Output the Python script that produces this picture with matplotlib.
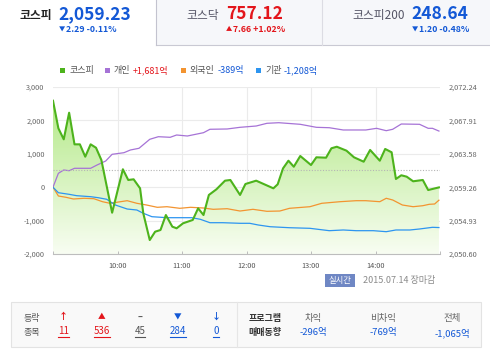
import numpy as np
import matplotlib
matplotlib.use('Agg')
import matplotlib.pyplot as plt
from matplotlib.patches import Rectangle, Polygon
from matplotlib.colors import LinearSegmentedColormap

plt.rcParams['font.family'] = ['Noto Sans CJK KR', 'DejaVu Sans']

# ---- data (minutes after 09:00) ----
t_kospi = [0, 5, 10, 15, 20, 25, 30, 35, 40, 45, 55, 65, 70, 75, 81, 84, 90, 95, 100, 105,
           111, 115, 121, 130, 135, 140, 145, 152, 160, 165, 174, 179, 189, 205, 209, 214, 219, 224, 230, 240,
           245, 254, 259, 264, 273, 280, 289, 295, 304, 309, 315, 319, 324, 329, 335, 344, 349, 359]
kospi = [2070.46, 2066.89, 2065.46, 2068.91, 2064.81, 2064.81, 2063.21, 2064.81, 2064.37, 2062.78,
         2055.95, 2061.58, 2060.19, 2060.28, 2059.11, 2055.87, 2052.41, 2053.49, 2053.71, 2055.65,
         2054.14, 2053.93, 2054.58, 2055.01, 2056.52, 2055.65, 2058.25, 2058.98, 2060.10, 2060.19,
         2058.25, 2059.67, 2060.10, 2059.11, 2059.63, 2061.70, 2062.69, 2061.91, 2063.30, 2062.13,
         2063.13, 2063.08, 2064.30, 2064.50, 2063.99, 2063.13, 2062.56, 2064.08, 2062.69, 2064.21,
         2063.78, 2060.32, 2060.80, 2060.62, 2060.02, 2060.19, 2058.89, 2059.23]
prev_close = 2061.52

t_ind = [0, 5, 10, 15, 20, 35, 41, 49, 55, 66, 72, 80, 90, 98, 109, 115, 125, 140, 146, 162,
         174, 189, 199, 210, 230, 245, 257, 270, 291, 301, 310, 316, 324, 341, 349, 353, 359]
individual = [0, 416, 515, 494, 566, 566, 665, 784, 985, 1033, 1114, 1165, 1434, 1512, 1494, 1563, 1533, 1632, 1734, 1743,
              1793, 1832, 1913, 1931, 1883, 1793, 1781, 1713, 1713, 1763, 1692, 1734, 1892, 1883, 1763, 1763, 1681]

t_for = [0, 5, 12, 19, 29, 38, 46, 53, 69, 78, 87, 97, 106, 118, 128, 140, 149, 162, 174, 186,
         199, 211, 220, 239, 250, 267, 282, 291, 304, 310, 316, 325, 335, 344, 350, 355, 359]
foreign = [0, -263, -302, -353, -332, -344, -434, -482, -404, -482, -533, -602, -584, -632, -602, -623, -662, -644, -713, -662,
           -722, -713, -632, -584, -482, -434, -404, -404, -434, -332, -383, -533, -584, -554, -512, -503, -389]

t_inst = [0, 5, 15, 22, 35, 42, 50, 58, 69, 78, 84, 92, 106, 118, 129, 137, 146, 158, 174, 183,
          191, 202, 220, 239, 257, 270, 282, 298, 310, 319, 332, 341, 353, 359]
institution = [0, -165, -213, -254, -284, -314, -362, -533, -653, -683, -781, -883, -913, -913, -913, -961, -1063, -1063, -1081, -1081,
               -1132, -1183, -1213, -1231, -1302, -1281, -1302, -1302, -1332, -1281, -1281, -1251, -1201, -1208]

left_ticks = [3000, 2000, 1000, 0, -1000, -2000]
right_ticks = [2072.24, 2067.91, 2063.58, 2059.26, 2054.93, 2050.60]
hour_ticks = [0, 60, 120, 180, 240, 300, 360]
hour_labels = ['', '10:00', '11:00', '12:00', '13:00', '14:00', '']

legend_names = ['코스피', '개인', '외국인', '기관']
legend_values = ['', '+1,681억', '-389억', '-1,208억']

# header tabs
tab_names = ['코스피', '코스닥', '코스피200']
tab_values = ['2,059.23', '757.12', '248.64']
tab_arrows = ['▼', '▲', '▼']
tab_changes = ['2.29 -0.11%', '7.66 +1.02%', '1.20 -0.48%']

# colours
GREEN = '#4db31c'
PURPLE = '#a673d6'
ORANGE = '#f39430'
BLUE = '#2d95f0'
TXT_BLUE = '#1358d6'
TXT_RED = '#e3151b'
GREY = '#555555'

fig = plt.figure(figsize=(4.9, 3.57), dpi=100)

# ---- overlay in pixel coordinates ----
ov = fig.add_axes([0, 0, 1, 1], zorder=0)
ov.set_xlim(0, 490)
ov.set_ylim(357, 0)
ov.axis('off')

ov.add_patch(Rectangle((156, 0), 334, 44.5, facecolor='#f6f7fa', edgecolor='none'))
ov.plot([156, 490], [44.5, 44.5], color='#c9c9d3', lw=0.8)
ov.plot([156, 156], [0, 44.5], color='#c3c3cf', lw=0.8)
ov.plot([322, 322], [0, 44.5], color='#dcdce3', lw=0.8)

name_x = [52, 219, 405]
val_x = [58, 226, 411]
chg_x = [60, 227, 413]
tab_cols = [TXT_BLUE, TXT_RED, TXT_BLUE]
name_cols = ['#222222', '#555566', '#555566']
for i in range(3):
    ov.text(name_x[i], 15, tab_names[i], ha='right', va='center', fontsize=8.5,
            fontweight='bold' if i == 0 else 'normal', color=name_cols[i])
    ov.text(val_x[i], 14, tab_values[i], ha='left', va='center', fontsize=12.5,
            fontweight='bold', color=tab_cols[i])
    ov.text(chg_x[i] + 2, 29.5, tab_arrows[i], ha='center', va='center', fontsize=4.5,
            color=tab_cols[i])
    ov.text(chg_x[i] + 6, 30, tab_changes[i], ha='left', va='center', fontsize=6.3,
            fontweight='bold', color=tab_cols[i])

# legend
leg_colors = [GREEN, PURPLE, ORANGE, BLUE]
leg_x = [60, 105, 181, 256]
leg_val_colors = [GREY, TXT_RED, TXT_BLUE, TXT_BLUE]
fig.canvas.draw()
renderer = fig.canvas.get_renderer()
inv = ov.transData.inverted()
for name, val, c, vc, x in zip(legend_names, legend_values, leg_colors, leg_val_colors, leg_x):
    ov.add_patch(Rectangle((x, 67.5), 5, 5, facecolor=c, edgecolor='none'))
    t = ov.text(x + 9, 70, name, ha='left', va='center', fontsize=6.5, color=GREY)
    if val:
        bb = t.get_window_extent(renderer)
        x1 = inv.transform((bb.x1, bb.y0))[0]
        ov.text(x1 + 2.5, 70, val, ha='left', va='center', fontsize=6.5, color=vc)

# badge and date
ov.add_patch(Rectangle((325, 274), 30, 12.5, facecolor='#6f87c4', edgecolor='none'))
ov.text(340, 280.5, '실시간', ha='center', va='center', fontsize=6, color='white')
ov.text(363, 280.5, '2015.07.14 장마감', ha='left', va='center', fontsize=6.5, color='#8a8a8a')

# bottom box
ov.add_patch(Rectangle((10.5, 302), 470, 45, facecolor='#f9f9f9', edgecolor='#e3e3e3', lw=0.8))
ov.plot([236.5, 236.5], [302, 347], color='#e6e6e6', lw=0.8)
ov.text(32, 318, '등락', ha='center', va='center', fontsize=6.5, color=GREY)
ov.text(32, 332, '종목', ha='center', va='center', fontsize=6.5, color=GREY)

updown_syms = ['↑', '▲', '–', '▼', '↓']
updown_nums = ['11', '536', '45', '284', '0']
updown_cols = [TXT_RED, TXT_RED, '#555555', TXT_BLUE, TXT_BLUE]
updown_x = [63.5, 102, 140, 178, 216]
for s, n, c, x in zip(updown_syms, updown_nums, updown_cols, updown_x):
    ov.text(x, 317, s, ha='center', va='center', fontsize=5.5 if s in '▲▼' else 6.5,
            fontweight='bold', color=c)
    t = ov.text(x, 331.5, n, ha='center', va='center', fontsize=7, color=c)
    bb = t.get_window_extent(renderer)
    xa = inv.transform((bb.x0, 0))[0]
    xb = inv.transform((bb.x1, 0))[0]
    ov.plot([xa, xb], [336.8, 336.8], color=c, lw=0.8)

ov.text(265, 318, '프로그램', ha='center', va='center', fontsize=6.5, fontweight='bold', color='#333333')
ov.text(265, 332, '매매동향', ha='center', va='center', fontsize=6.5, fontweight='bold', color='#333333')
prog_names = ['차익', '비차익', '전체']
prog_vals = ['-296억', '-769억', '-1,065억']
prog_x = [313, 383, 452]
for nm, v, x in zip(prog_names, prog_vals, prog_x):
    ov.text(x, 318, nm, ha='center', va='center', fontsize=6.8, color='#666666')
    ov.text(x, 333, v, ha='center', va='center', fontsize=6.8, color=TXT_BLUE)

# ---- chart ----
ax = fig.add_axes([53 / 490, 1 - 254 / 357, 387 / 490, 167 / 357], zorder=2)
ax2 = ax.twinx()
ax2.set_zorder(3)
ax2.patch.set_visible(False)
ax.patch.set_visible(False)

ax.set_xlim(0, 360)
ax.set_ylim(-2000, 3000)
ax2.set_ylim(right_ticks[-1], right_ticks[0])

# gradient fill under kospi line (drawn in ax, using ax2's scale)
verts = list(zip(t_kospi, kospi)) + [(t_kospi[-1], right_ticks[-1]), (t_kospi[0], right_ticks[-1])]
clip = Polygon(verts, closed=True, transform=ax2.transData, facecolor='none', edgecolor='none')
ax.add_patch(clip)
cmap = LinearSegmentedColormap.from_list('fill', ['#f8fdf2', '#aee77f'])
grad = np.linspace(1, 0, 256).reshape(-1, 1)
img = ax.imshow(grad, extent=[0, 360, -2000, 3000], aspect='auto', cmap=cmap, origin='upper', zorder=0.5)
img.set_clip_path(clip)
ax.set_xlim(0, 360)
ax.set_ylim(-2000, 3000)

# grid
for y in left_ticks[:-1]:
    ax.axhline(y, color='#ebebeb', lw=0.8, zorder=0.2)
for x in hour_ticks[1:-1]:
    ax.axvline(x, color='#ebebeb', lw=0.8, zorder=0.2)

ax.plot(t_ind, individual, color=PURPLE, lw=0.9, zorder=3)
ax.plot(t_for, foreign, color=ORANGE, lw=0.9, zorder=3)
ax.plot(t_inst, institution, color=BLUE, lw=0.9, zorder=3)

ax2.axhline(prev_close, color='#b5b5b5', lw=0.8, ls=(0, (1, 1.5)), zorder=1)
ax2.plot(t_kospi, kospi, color=GREEN, lw=1.5, zorder=4)

# axes styling
for a in (ax, ax2):
    for sp in ('top', 'left', 'right'):
        a.spines[sp].set_visible(False)
    a.spines['bottom'].set_color('#bdbdbd')
    a.spines['bottom'].set_linewidth(0.8)
ax2.spines['bottom'].set_visible(False)

ax.set_xticks(hour_ticks)
ax.set_xticklabels(hour_labels)
ax.tick_params(axis='x', direction='in', length=2.5, width=0.7, color='#bdbdbd',
               labelsize=5.3, labelcolor='#555555', pad=6)
ax.set_yticks(left_ticks)
ax.set_yticklabels([f'{v:,}' for v in left_ticks])
ax.tick_params(axis='y', length=0, labelsize=5.3, labelcolor='#666666', pad=6)
ax2.set_yticks(right_ticks)
ax2.set_yticklabels([f'{v:,.2f}' for v in right_ticks])
ax2.tick_params(axis='y', length=0, labelsize=5.3, labelcolor='#666666', pad=6)

fig.savefig('out.png', dpi=100)
